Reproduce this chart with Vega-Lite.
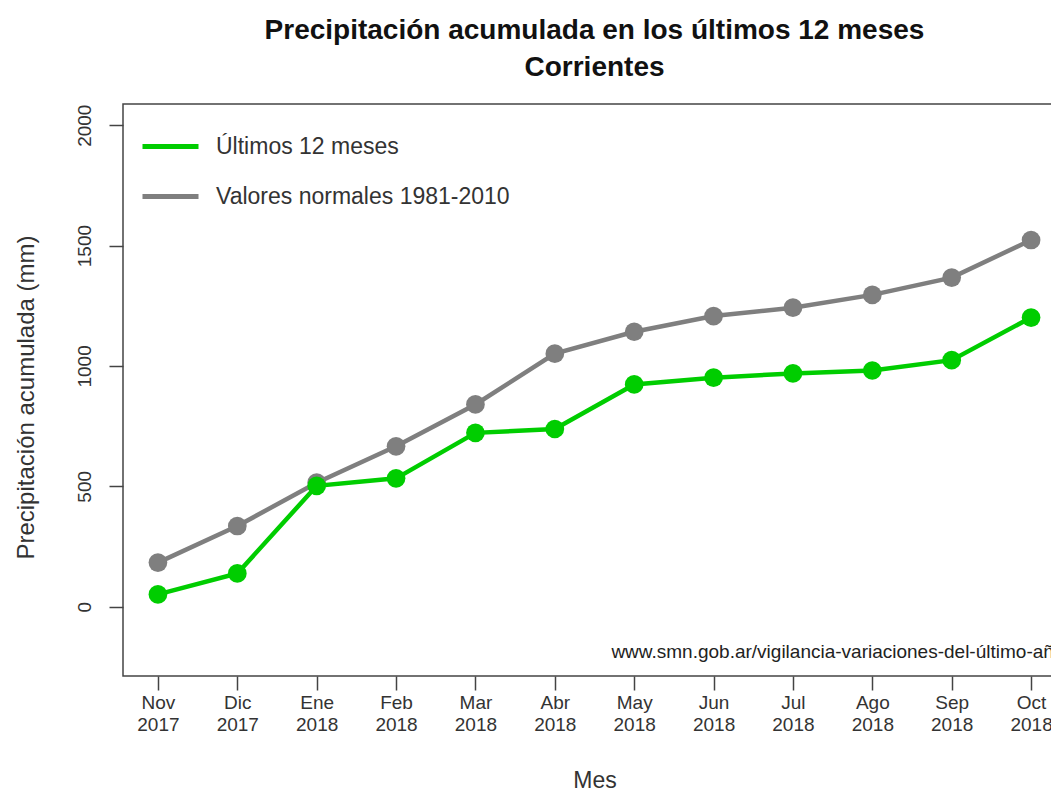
{
  "$schema": "https://vega.github.io/schema/vega-lite/v6.json",
  "width": 943,
  "height": 572,
  "autosize": {"type": "none"},
  "padding": {"left": 123, "top": 104, "right": 0, "bottom": 115},
  "background": "white",
  "title": {
    "text": ["Precipitación acumulada en los últimos 12 meses", "Corrientes"],
    "anchor": "middle",
    "font": "Liberation Sans",
    "fontSize": 28,
    "fontWeight": "bold",
    "color": "#111",
    "lineHeight": 37,
    "offset": 22
  },
  "layer": [
    {
      "data": {
        "values": [
          {"i": 1, "mes": "Nov 2017", "serie": "Valores normales 1981-2010", "pp": 183},
          {"i": 2, "mes": "Dic 2017", "serie": "Valores normales 1981-2010", "pp": 335},
          {"i": 3, "mes": "Ene 2018", "serie": "Valores normales 1981-2010", "pp": 515},
          {"i": 4, "mes": "Feb 2018", "serie": "Valores normales 1981-2010", "pp": 666},
          {"i": 5, "mes": "Mar 2018", "serie": "Valores normales 1981-2010", "pp": 840},
          {"i": 6, "mes": "Abr 2018", "serie": "Valores normales 1981-2010", "pp": 1051},
          {"i": 7, "mes": "May 2018", "serie": "Valores normales 1981-2010", "pp": 1142},
          {"i": 8, "mes": "Jun 2018", "serie": "Valores normales 1981-2010", "pp": 1207},
          {"i": 9, "mes": "Jul 2018", "serie": "Valores normales 1981-2010", "pp": 1242},
          {"i": 10, "mes": "Ago 2018", "serie": "Valores normales 1981-2010", "pp": 1295},
          {"i": 11, "mes": "Sep 2018", "serie": "Valores normales 1981-2010", "pp": 1367},
          {"i": 12, "mes": "Oct 2018", "serie": "Valores normales 1981-2010", "pp": 1523},
          {"i": 1, "mes": "Nov 2017", "serie": "Últimos 12 meses", "pp": 51},
          {"i": 2, "mes": "Dic 2017", "serie": "Últimos 12 meses", "pp": 138},
          {"i": 3, "mes": "Ene 2018", "serie": "Últimos 12 meses", "pp": 502},
          {"i": 4, "mes": "Feb 2018", "serie": "Últimos 12 meses", "pp": 533},
          {"i": 5, "mes": "Mar 2018", "serie": "Últimos 12 meses", "pp": 722},
          {"i": 6, "mes": "Abr 2018", "serie": "Últimos 12 meses", "pp": 738},
          {"i": 7, "mes": "May 2018", "serie": "Últimos 12 meses", "pp": 923},
          {"i": 8, "mes": "Jun 2018", "serie": "Últimos 12 meses", "pp": 951},
          {"i": 9, "mes": "Jul 2018", "serie": "Últimos 12 meses", "pp": 969},
          {"i": 10, "mes": "Ago 2018", "serie": "Últimos 12 meses", "pp": 981},
          {"i": 11, "mes": "Sep 2018", "serie": "Últimos 12 meses", "pp": 1024},
          {"i": 12, "mes": "Oct 2018", "serie": "Últimos 12 meses", "pp": 1201}
        ]
      },
      "encoding": {
        "x": {
          "field": "i",
          "type": "quantitative",
          "scale": {"domain": [0.56, 12.44], "nice": false, "zero": false},
          "axis": {
            "values": [1, 2, 3, 4, 5, 6, 7, 8, 9, 10, 11, 12],
            "labelExpr": "[['Nov','2017'],['Dic','2017'],['Ene','2018'],['Feb','2018'],['Mar','2018'],['Abr','2018'],['May','2018'],['Jun','2018'],['Jul','2018'],['Ago','2018'],['Sep','2018'],['Oct','2018']][datum.value-1]",
            "labelAlign": "center",
            "labelBaseline": "top",
            "labelPadding": 3,
            "labelLineHeight": 22,
            "labelFontSize": 19,
            "labelFlush": false,
            "labelOverlap": false,
            "tickSize": 14,
            "title": "Mes",
            "titleFontSize": 23,
            "titleY": 104,
            "titleBaseline": "middle"
          }
        },
        "y": {
          "field": "pp",
          "type": "quantitative",
          "scale": {"domain": [-288, 2088], "nice": false, "zero": false},
          "axis": {
            "values": [0, 500, 1000, 1500, 2000],
            "format": "d",
            "labelAngle": -90,
            "labelAlign": "center",
            "labelBaseline": "alphabetic",
            "labelPadding": 19,
            "labelFontSize": 19,
            "labelFlush": false,
            "labelOverlap": false,
            "tickSize": 14,
            "title": "Precipitación acumulada (mm)",
            "titleFontSize": 24,
            "titleX": -97,
            "titleY": 293,
            "titleAlign": "center",
            "titleBaseline": "middle"
          }
        }
      },
      "layer": [
        {
          "transform": [{"filter": "datum.serie === 'Valores normales 1981-2010'"}],
          "mark": {"type": "line", "strokeWidth": 4.5},
          "encoding": {
            "color": {
              "field": "serie",
              "type": "nominal",
              "scale": {"domain": ["Últimos 12 meses", "Valores normales 1981-2010"], "range": ["#00cd00", "#7f7f7f"]},
              "legend": {
                "orient": "none",
                "legendX": 17,
                "legendY": 12,
                "title": null,
                "symbolType": "stroke",
                "symbolSize": 3136,
                "symbolStrokeWidth": 5,
                "labelFontSize": 23,
                "labelFont": "Liberation Sans",
                "labelColor": "#333",
                "labelLimit": 0,
                "labelOffset": 15,
                "rowPadding": 7,
                "padding": 0
              }
            }
          }
        },
        {
          "transform": [{"filter": "datum.serie === 'Valores normales 1981-2010'"}],
          "mark": {"type": "circle", "color": "#7f7f7f", "opacity": 1, "size": 350}
        },
        {
          "transform": [{"filter": "datum.serie === 'Últimos 12 meses'"}],
          "mark": {"type": "line", "strokeWidth": 4.5},
          "encoding": {
            "color": {"field": "serie", "type": "nominal"}
          }
        },
        {
          "transform": [{"filter": "datum.serie === 'Últimos 12 meses'"}],
          "mark": {"type": "circle", "color": "#00cd00", "opacity": 1, "size": 350}
        }
      ]
    },
    {
      "data": {"values": [{"nota": "www.smn.gob.ar/vigilancia-variaciones-del-último-año"}]},
      "mark": {"type": "text", "align": "right", "baseline": "middle", "fontSize": 19, "font": "Liberation Sans", "color": "#222"},
      "encoding": {
        "x": {"datum": 12.42, "type": "quantitative"},
        "y": {"datum": -190, "type": "quantitative"},
        "text": {"field": "nota", "type": "nominal"}
      }
    }
  ],
  "config": {
    "view": {"stroke": "#444", "strokeWidth": 1.5},
    "axis": {
      "domain": false,
      "grid": false,
      "tickColor": "#444",
      "tickWidth": 1.5,
      "labelFont": "Liberation Sans",
      "labelColor": "#333",
      "titleFont": "Liberation Sans",
      "titleColor": "#333",
      "titleFontWeight": "normal"
    }
  }
}
